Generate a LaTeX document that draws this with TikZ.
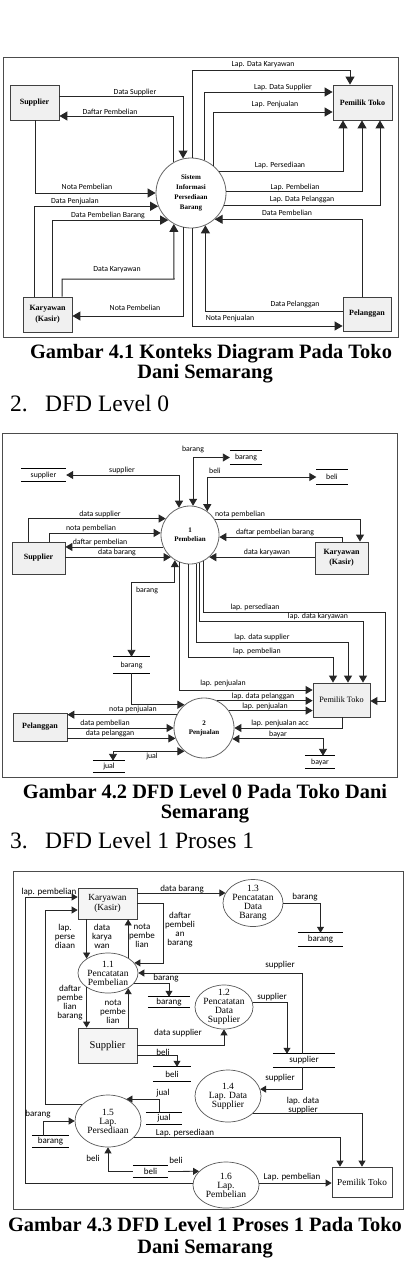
\documentclass[tikz,border=0pt]{standalone}
\usepackage{fontspec}
\setmainfont{Liberation Serif}
\newfontfamily\lbf{Carlito}
\usetikzlibrary{arrows.meta,shapes.geometric}

\begin{document}
\begin{tikzpicture}[
    x=1pt, y=-1pt,
    ent/.style={draw=black!75, fill=black!6, line width=0.8pt, inner sep=0pt, align=center},
    proc/.style={circle, draw=black!60, fill=white, line width=0.8pt, inner sep=0pt, align=center},
    subp/.style={ellipse, draw=black!65, fill=white, line width=0.7pt, inner xsep=-1pt, inner ysep=-3pt, align=center,
        font=\fontsize{9.5}{9}\selectfont},
    lbl/.style={font=\lbf\fontsize{7.8}{8.5}\selectfont, inner sep=0.5pt, align=center},
    store/.style={inner sep=0pt, font=\lbf\fontsize{7.8}{8.5}\selectfont,
        append after command={(\tikzlastnode.north west) edge[-, line width=0.8pt] (\tikzlastnode.north east)
                              (\tikzlastnode.south west) edge[-, line width=0.8pt] (\tikzlastnode.south east)}},
    flow/.style={->, draw=black!85, line width=0.9pt},
    both/.style={<->, draw=black!85, line width=0.9pt},
    boxframe/.style={draw=black!70, line width=1pt},
    capt/.style={font=\bfseries\fontsize{20.4}{21}\selectfont, inner sep=0pt, anchor=base},
    headl/.style={font=\fontsize{23.5}{24}\selectfont, anchor=base west, inner sep=0pt}
]
\path[fill=white] (0,0) rectangle (405,1266);
\useasboundingbox (0,0) rectangle (405,1266);

% ---- Gambar 4.1 konteks diagram
\begin{scope}[>={Triangle[width=9pt,length=8pt]}, flow/.append style={line width=1pt}]
\draw[boxframe] (3,57) rectangle (398,337);
\node[ent, minimum width=49pt, minimum height=35pt, font=\bfseries\fontsize{8}{9}\selectfont] (sup1) at (34.5,102.5) {Supplier};
\node[ent, minimum width=59pt, minimum height=35pt, font=\bfseries\fontsize{8}{9}\selectfont] (pem1) at (362.5,102.5) {Pemilik Toko};
\node[ent, minimum width=49pt, minimum height=35pt, font=\bfseries\fontsize{8}{11}\selectfont] (kar1) at (47.5,314.5) {Karyawan\\(Kasir)};
\node[ent, minimum width=48pt, minimum height=34pt, font=\bfseries\fontsize{8}{9}\selectfont] (pel1) at (367,314) {Pelanggan};
\node[proc, minimum size=70pt, font=\bfseries\fontsize{7}{10}\selectfont] (sis) at (191,193) {Sistem\\Informasi\\Persediaan\\Barang};

\draw[flow] (sis.88) |- (350,70) -- (pem1.north -| 350,0);
\draw[flow] (sis.68) |- (pem1.west |- 0,92);
\draw[flow] (sis.50) |- (pem1.west |- 0,112);
\draw[flow] (sis.38) -| (pem1.south -| 343,0);
\draw[flow] (sis.2) -| (pem1.south -| 362,0);
\draw[flow] (sis.-20) -| (pem1.south -| 380,0);
\draw[flow] (sup1.east |- 0,96) -| (sis.103);
\draw[flow] (sis.119) |- (sup1.east |- 0,116);
\draw[flow] (sup1.south -| 35,0) |- (sis.180);
\draw[flow] (kar1.north -| 34,0) |- (sis.202);
\draw[flow] (kar1.north -| 52,0) |- (sis.230);
\draw[flow] (kar1.north -| 62,0) |- (174,279) -- (sis.241);
\draw[flow] (sis.257) |- (kar1.east |- 0,316);
\draw[flow] (pel1.north -| 362,0) |- (sis.-48);
\draw[flow] (pel1.west |- 0,311) -| (sis.-66);
\draw[flow] (sis.-88) |- (pel1.west |- 0,326);

\node[lbl] (a1) at (263,65) {Lap. Data Karyawan};
\node[lbl] (a2) at (283,87) {Lap. Data Supplier};
\node[lbl] (a3) at (275,104) {Lap. Penjualan};
\node[lbl] (a4) at (280,165) {Lap. Persediaan};
\node[lbl] (a5) at (295,187) {Lap. Pembelian};
\node[lbl] (a6) at (302,199) {Lap. Data Pelanggan};
\node[lbl] (a7) at (135,92) {Data Supplier};
\node[lbl] (a8) at (110,112) {Daftar Pembelian};
\node[lbl] (a9) at (87,187) {Nota Pembelian};
\node[lbl] (a10) at (75,201) {Data Penjualan};
\node[lbl] (a11) at (108,215) {Data Pembelian Barang};
\node[lbl] (a12) at (117,270) {Data Karyawan};
\node[lbl] (a13) at (135,308) {Nota Pembelian};
\node[lbl] (a14) at (287,213) {Data Pembelian};
\node[lbl] (a15) at (295,304) {Data Pelanggan};
\node[lbl] (a16) at (230,318) {Nota Penjualan};
\end{scope}

\node[capt] (cap1a) at (211,358) {Gambar 4.1 Konteks Diagram Pada Toko};
\node[capt] (cap1b) at (205,378) {Dani Semarang};
\node[headl] (h2n) at (10,411) {2.};
\node[headl] (h2t) at (45,411) {DFD Level 0};

% ---- Gambar 4.2 DFD level 0
\begin{scope}[>={Triangle[width=8pt,length=7pt]}]
\draw[boxframe] (2,433) rectangle (397,777);
\node[proc, minimum size=58pt, font=\bfseries\fontsize{7}{9}\selectfont] (p1) at (190,535) {1\\Pembelian};
\node[proc, minimum size=60pt, font=\bfseries\fontsize{7}{9}\selectfont] (p2) at (204,728) {2\\Penjualan};
\node[ent, minimum width=53pt, minimum height=32pt, font=\bfseries\fontsize{8}{9}\selectfont] (sup2) at (38.5,558) {Supplier};
\node[ent, minimum width=53pt, minimum height=32pt, font=\bfseries\fontsize{8}{10}\selectfont] (kar2) at (341.5,558) {Karyawan\\(Kasir)};
\node[ent, minimum width=57pt, minimum height=34pt, font=\fontsize{8.2}{9}\selectfont] (pem2) at (341.5,700) {Pemilik Toko};
\node[ent, minimum width=54pt, minimum height=28pt, font=\bfseries\fontsize{8}{9}\selectfont] (pel2) at (40,727) {Pelanggan};

\node[store, minimum width=32pt, minimum height=13pt] (sBT) at (246,457.5) {barang};
\node[store, minimum width=45pt, minimum height=12pt] (sSup) at (43.5,475) {supplier};
\node[store, minimum width=31pt, minimum height=15pt] (sBeli) at (332,477) {beli};
\node[store, minimum width=37pt, minimum height=16pt] (sBM) at (131.5,665) {barang};
\node[store, minimum width=32pt, minimum height=11pt] (sJual) at (109,766.5) {jual};
\node[store, minimum width=30pt, minimum height=12pt] (sBay) at (320,762) {bayar};

\draw[both] (p1.112) |- (sSup.east);
\draw[both] (p1.84) |- (sBT.west);
\draw[both] (p1.54) |- (sBeli.west);
\draw[flow] (sup2.north -| 28,0) |- (p1.146);
\draw[flow] (sup2.north -| 49,0) |- (p1.176);
\draw[flow] (p1.204) -- (p1.204 -| sup2.east);
\draw[flow] (sup2.east |- p1.229) -- (p1.229);
\draw[flow] (p1.33) -| (kar2.north -| 360,0);
\draw[flow] (kar2.north -| 342,0) |- (p1.-4);
\draw[flow] (kar2.west |- p1.-49) -- (p1.-49);
\draw[both] (p1.-121) |- (sBM.north |- 0,582) -- (sBM.north);
\draw[flow] (p1.-63) |- (385,612) |- (pem2.east |- 0,701);
\draw[flow] (p1.-72) |- (363,621) -- (pem2.north -| 363,0);
\draw[flow] (p1.-78) |- (348,642) -- (pem2.north -| 348,0);
\draw[flow] (p1.-94) |- (333,657) -- (pem2.north -| 333,0);
\draw[flow] (p1.-112) |- (pem2.west |- 0,690);

\draw[flow] (sBM.south) |- (p2.130);
\draw[flow] (p2.64) -- (p2.64 -| pem2.west);
\draw[flow] (p2.35) -- (p2.35 -| pem2.west);
\draw[flow] (pem2.south -| 342,0) |- (p2.0);
\draw[both] (p2.-21) -| (sBay.north -| 323,0);
\draw[both] (p2.230) -| (sJual.north -| 113,0);
\draw[flow] (p2.154) -- (p2.154 -| pel2.east);
\draw[flow] (pel2.east |- p2.180) -- (p2.180);
\draw[flow] (pel2.east |- p2.200) -- (p2.200);

\node[lbl] (b1) at (122,470) {supplier};
\node[lbl] (b2) at (193,449) {barang};
\node[lbl] (b3) at (215,471) {beli};
\node[lbl] (b4) at (100,514) {data supplier};
\node[lbl] (b5) at (91,528) {nota pembelian};
\node[lbl] (b6) at (100,542) {daftar pembelian};
\node[lbl] (b7) at (117,552.5) {data barang};
\node[lbl] (b8) at (240,514.5) {nota pembelian};
\node[lbl] (b9) at (275,532) {daftar pembelian barang};
\node[lbl] (b10) at (267,552) {data karyawan};
\node[lbl] (b11) at (147,590) {barang};
\node[lbl] (b12) at (255,607) {lap. persediaan};
\node[lbl] (b13) at (318,616) {lap. data karyawan};
\node[lbl] (b14) at (262,637) {lap. data supplier};
\node[lbl] (b15) at (257,651) {lap. pembelian};
\node[lbl] (b16) at (223,683) {lap. penjualan};
\node[lbl] (b17) at (263,696) {lap. data pelanggan};
\node[lbl] (b18) at (265,706) {lap. penjualan};
\node[lbl] (b19) at (280,723) {lap. penjualan acc};
\node[lbl] (b20) at (278,734) {bayar};
\node[lbl] (b21) at (152,756) {jual};
\node[lbl] (b22) at (133,709) {nota penjualan};
\node[lbl] (b23) at (105,723) {data pembelian};
\node[lbl] (b24) at (110,733) {data pelanggan};
\end{scope}

\node[capt] (cap2a) at (205,798) {Gambar 4.2 DFD Level 0 Pada Toko Dani};
\node[capt] (cap2b) at (205,818) {Semarang};
\node[headl] (h3n) at (10,848) {3.};
\node[headl] (h3t) at (45,848) {DFD Level 1 Proses 1};

% ---- Gambar 4.3 DFD level 1 proses 1
\begin{scope}[>={Triangle[width=7pt,length=6pt]}, flow/.append style={line width=0.8pt},
    lbl/.append style={font=\lbf\fontsize{9}{9}\selectfont}, store/.append style={font=\lbf\fontsize{9}{9}\selectfont}]
\draw[boxframe] (13,871) rectangle (403,1209);
\node[ent, fill=black!4, minimum width=59pt, minimum height=31pt, font=\fontsize{9.3}{10.5}\selectfont] (kar3) at (107.5,903.5) {Karyawan\\(Kasir)};
\node[ent, fill=black!4, minimum width=59pt, minimum height=35pt, font=\fontsize{10.5}{11}\selectfont] (sup3) at (107.5,1045.5) {Supplier};
\node[ent, fill=white, minimum width=60pt, minimum height=30pt, font=\fontsize{9.2}{10}\selectfont] (pem3) at (362,1182) {Pemilik Toko};
\node[subp, minimum width=60pt, minimum height=47pt] (c13) at (253,903) {1.3\\Pencatatan\\Data\\Barang};
\node[subp, minimum width=60pt, minimum height=40pt] (c11) at (108,973) {1.1\\Pencatatan\\Pembelian};
\node[subp, minimum width=58pt, minimum height=44pt] (c12) at (224,1007) {1.2\\Pencatatan\\Data\\Supplier};
\node[subp, minimum width=66pt, minimum height=52pt] (c14) at (228,1096) {1.4\\Lap. Data\\Supplier};
\node[subp, minimum width=66pt, minimum height=52pt] (c15) at (108,1121) {1.5\\Lap.\\Persediaan};
\node[subp, minimum width=66pt, minimum height=46pt] (c16) at (226,1185) {1.6\\Lap.\\Pembelian};

\node[store, minimum width=45pt, minimum height=13pt] (s3b1) at (320.5,939.5) {barang};
\node[store, minimum width=42pt, minimum height=10pt] (s3b2) at (169,1002) {barang};
\node[store, minimum width=62pt, minimum height=13pt] (s3sup) at (304,1060.5) {supplier};
\node[store, minimum width=38pt, minimum height=14pt] (s3bl1) at (172,1074) {beli};
\node[store, minimum width=36pt, minimum height=11pt] (s3jual) at (164,1118.5) {jual};
\node[store, minimum width=37pt, minimum height=11pt] (s3b3) at (50.5,1141.5) {barang};
\node[store, minimum width=35pt, minimum height=11pt] (s3bl2) at (150.5,1171.5) {beli};

\draw[flow] (c16.west |- 0,1183) -| (25,897) -- (kar3.west |- 0,897);
\draw[flow] (c15.148) -| (45,910) -- (kar3.west |- 0,910);
\draw[flow] (kar3.east |- c13.160) -- (c13.160);
\draw[flow] (c13.east) -| (s3b1.north);
\draw[flow] (kar3.south -| c11.146) -- (c11.146);
\draw[flow] (c11.37) -- (c11.37 |- kar3.south);
\draw[flow] (kar3.east |- 0,903) -| (163,0 |- c11.21) -- (c11.21);
\draw[flow] (s3sup.north -| 302,0) |- (c11.east);
\draw[flow] (c11.-21) -| (s3b2.north);
\draw[flow] (c11.214) -- (c11.214 |- sup3.north);
\draw[flow] (sup3.north -| c11.-37) -- (c11.-37);
\draw[flow] (c12.10) -| (s3sup.north -| 287,0);
\draw[flow] (sup3.east |- 0,1045) -| (c12.south);
\draw[flow] (sup3.east |- 0,1055) -| (s3bl1.north -| 177,0);
\draw[flow] (s3sup.south -| 302,0) |- (c14.12);
\draw[flow] (c14.-34) -| (pem3.north -| 362,0);
\draw[flow] (s3jual.north -| 159,0) |- (c15.50);
\draw[flow] (s3b3.north -| 43,0) |- (c15.west);
\draw[flow] (c15.-32) -| (pem3.north -| 340,0);
\draw[flow] (s3bl2.west) -| (c15.south);
\draw[flow] (s3bl2.east) -- (c16.153);
\draw[flow] (c16.east |- 0,1183) -- (pem3.west |- 0,1183);

\node[lbl] (c1) at (49,892) {lap. pembelian};
\node[lbl] (c2) at (65,936) {lap.\\perse\\diaan};
\node[lbl] (c3) at (182,889) {data barang};
\node[lbl] (c4) at (305,897) {barang};
\node[lbl] (c5) at (102,936) {data\\karya\\wan};
\node[lbl] (c6) at (142,936) {nota\\pembe\\lian};
\node[lbl] (c7) at (180,930) {daftar\\pembeli\\an\\barang};
\node[lbl] (c8) at (280,965) {supplier};
\node[lbl] (c9) at (166,978) {barang};
\node[lbl] (c10) at (70,1003) {daftar\\pembe\\lian\\barang};
\node[lbl] (c11l) at (113,1012) {nota\\pembe\\lian};
\node[lbl] (c12l) at (272,997) {supplier};
\node[lbl] (c13l) at (178,1033) {data supplier};
\node[lbl] (c14l) at (163,1052) {beli};
\node[lbl] (c15l) at (280,1078) {supplier};
\node[lbl] (c16l) at (303,1106) {lap. data\\supplier};
\node[lbl] (c17) at (163,1093) {jual};
\node[lbl] (c18) at (38,1114) {barang};
\node[lbl] (c19) at (185,1133) {Lap. persediaan};
\node[lbl] (c20) at (93,1158) {beli};
\node[lbl] (c21) at (176,1160) {beli};
\node[lbl] (c22) at (292,1177) {Lap. pembelian};
\end{scope}

\node[capt] (cap3a) at (205,1231) {Gambar 4.3 DFD Level 1 Proses 1 Pada Toko};
\node[capt] (cap3b) at (205,1253) {Dani Semarang};
\end{tikzpicture}
\end{document}
